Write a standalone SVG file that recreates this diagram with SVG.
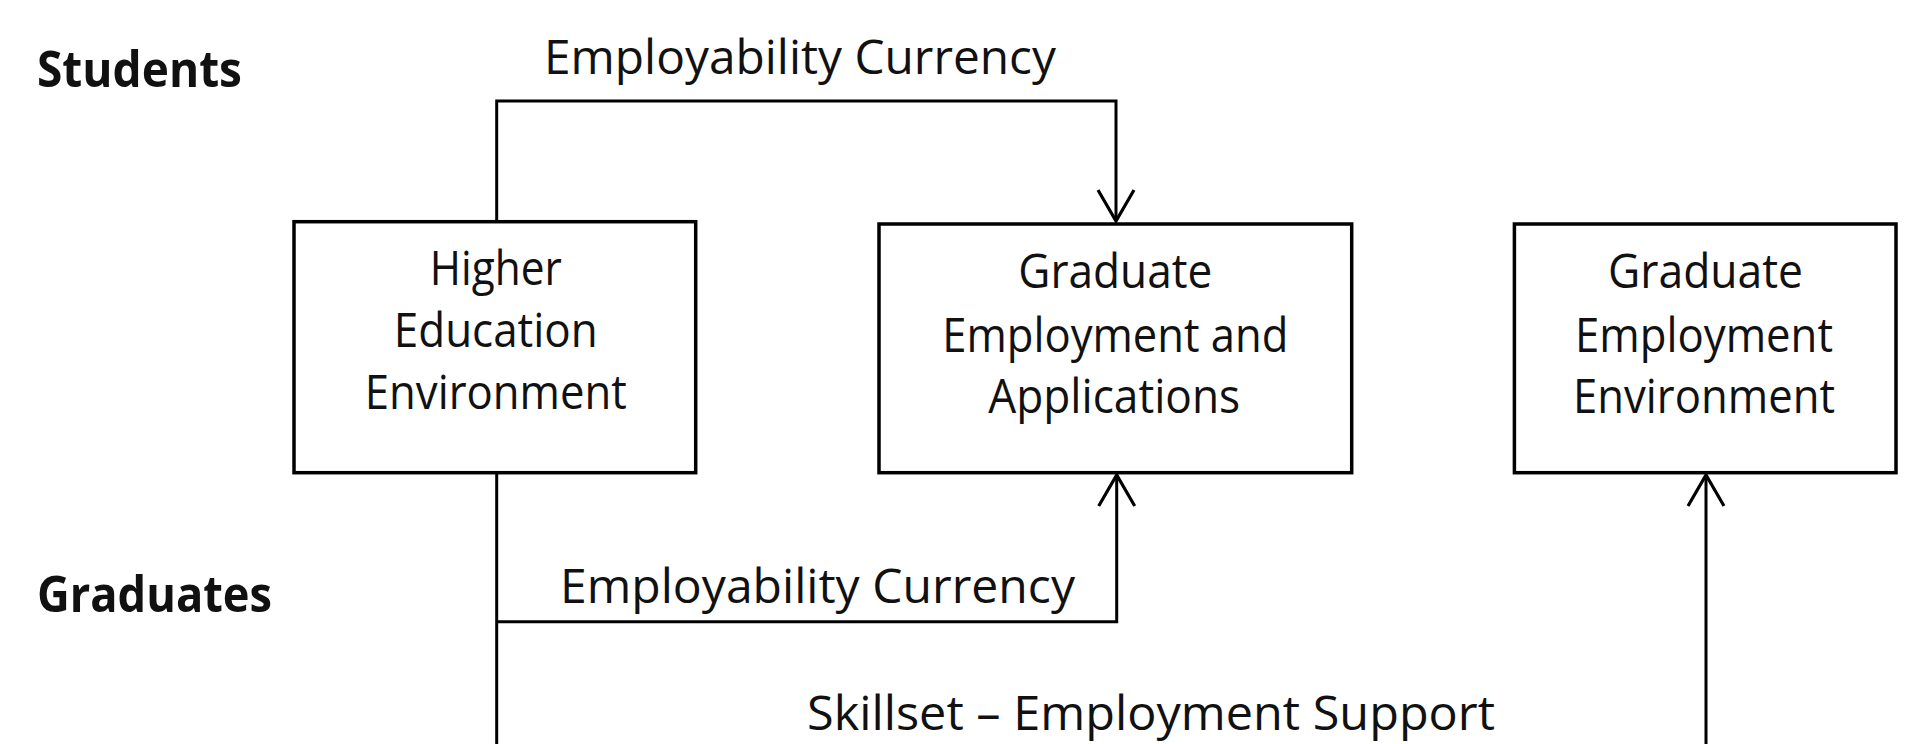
<svg xmlns="http://www.w3.org/2000/svg" width="1909" height="744" viewBox="0 0 1909 744">
<style>
.box{fill:#fff;stroke:#000;stroke-width:3.5}
.t{font-family:"Open Sans","Liberation Sans",sans-serif;font-size:47px;fill:#111;text-anchor:middle}
.lbl{font-family:"Open Sans","Liberation Sans",sans-serif;font-size:47px;fill:#111}
.hd{font-family:"Open Sans","Liberation Sans",sans-serif;font-size:51px;font-weight:bold;fill:#111}
.c{fill:none;stroke:#000;stroke-width:3}
</style>
<defs>
<marker id="arr" markerUnits="userSpaceOnUse" markerWidth="40" markerHeight="44" viewBox="-34 -22 40 44" refX="0" refY="0" orient="auto">
<path d="M-31,-18 L0,0 L-31,18" fill="none" stroke="#000" stroke-width="3.2"/>
</marker>
</defs>
<rect width="1909" height="744" fill="#fff"/>
<g id="label-students"><text class="hd" x="37" y="87" textLength="205" lengthAdjust="spacingAndGlyphs">Students</text></g>
<g id="label-graduates"><text class="hd" x="37" y="612" textLength="235" lengthAdjust="spacingAndGlyphs">Graduates</text></g>
<g id="connectors">
<path class="c" d="M496.7,221 V101 H1116 V221" marker-end="url(#arr)"/>
<path class="c" d="M496.7,473 V744"/>
<path class="c" d="M496.7,621.7 H1116.7 V475" marker-end="url(#arr)"/>
<path class="c" d="M1706,744 V475" marker-end="url(#arr)"/>
<text class="lbl" x="544" y="74" textLength="512" lengthAdjust="spacingAndGlyphs">Employability Currency</text>
<text class="lbl" x="560" y="603" textLength="515" lengthAdjust="spacingAndGlyphs">Employability Currency</text>
<text class="lbl" x="807" y="730" textLength="688" lengthAdjust="spacingAndGlyphs">Skillset – Employment Support</text>
</g>
<g id="node-higher-education">
<rect class="box" x="294" y="221.7" width="401.7" height="251"/>
<text class="t" x="495.8" y="285" textLength="132" lengthAdjust="spacingAndGlyphs">Higher</text>
<text class="t" x="495.8" y="347" textLength="204" lengthAdjust="spacingAndGlyphs">Education</text>
<text class="t" x="495.8" y="409" textLength="262" lengthAdjust="spacingAndGlyphs">Environment</text>
</g>
<g id="node-graduate-applications">
<rect class="box" x="879" y="224" width="472.7" height="248.7"/>
<text class="t" x="1115.3" y="288" textLength="194" lengthAdjust="spacingAndGlyphs">Graduate</text>
<text class="t" x="1115.3" y="351.5" textLength="346" lengthAdjust="spacingAndGlyphs">Employment and</text>
<text class="t" x="1114.2" y="413" textLength="252" lengthAdjust="spacingAndGlyphs">Applications</text>
</g>
<g id="node-graduate-environment">
<rect class="box" x="1514.4" y="224" width="381.6" height="248.7"/>
<text class="t" x="1705.5" y="288" textLength="195" lengthAdjust="spacingAndGlyphs">Graduate</text>
<text class="t" x="1704" y="351.5" textLength="258" lengthAdjust="spacingAndGlyphs">Employment</text>
<text class="t" x="1704" y="413" textLength="262" lengthAdjust="spacingAndGlyphs">Environment</text>
</g>
</svg>
